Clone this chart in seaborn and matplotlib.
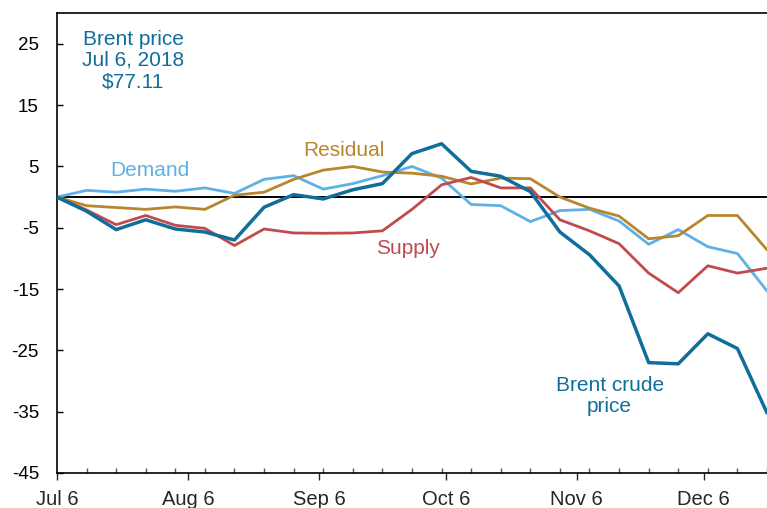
import pandas as pd
import matplotlib.pyplot as plt
import seaborn as sns

# weekly values, % change since Jul 6, 2018
dates = pd.date_range('2018-07-06', periods=25, freq='7D')
brent = [0, -2.3, -5.3, -3.7, -5.2, -5.7, -7.0, -1.65, 0.4, -0.3, 1.2, 2.2, 7.1,
         8.7, 4.2, 3.4, 0.9, -5.7, -9.4, -14.5, -27.0, -27.2, -22.3, -24.7, -35.2]
demand = [0, 1.1, 0.8, 1.3, 0.95, 1.5, 0.6, 2.9, 3.5, 1.3, 2.2, 3.5, 5.0,
          3.1, -1.2, -1.4, -4.0, -2.2, -2.0, -3.9, -7.7, -5.3, -8.1, -9.2, -15.3]
residual = [0, -1.4, -1.7, -2.0, -1.6, -2.0, 0.3, 0.8, 2.9, 4.4, 5.0, 4.1, 3.9,
            3.4, 2.15, 3.1, 3.0, 0, -1.8, -3.1, -6.8, -6.3, -3.0, -3.0, -8.6]
supply = [0, -2.1, -4.5, -3.0, -4.6, -5.1, -7.9, -5.2, -5.85, -5.9, -5.85, -5.5, -2.0,
          2.0, 3.2, 1.5, 1.5, -3.7, -5.5, -7.6, -12.4, -15.6, -11.2, -12.4, -11.6]

month_ticks = pd.to_datetime(['2018-07-06', '2018-08-06', '2018-09-06',
                              '2018-10-06', '2018-11-06', '2018-12-06'])
month_labels = ['Jul 6', 'Aug 6', 'Sep 6', 'Oct 6', 'Nov 6', 'Dec 6']

colors = {'Demand': '#5fb0e4', 'Residual': '#b8862d', 'Supply': '#c24a4c', 'Brent': '#0f6e9c'}

df = pd.DataFrame({'date': dates, 'Demand': demand, 'Residual': residual,
                   'Supply': supply, 'Brent': brent})
long = df.melt(id_vars='date', var_name='series', value_name='pct')

sns.set_style('ticks')
plt.rcParams['font.family'] = ['Liberation Sans', 'DejaVu Sans']
plt.rcParams['axes.unicode_minus'] = False

fig = plt.figure(figsize=(7.67, 5.08), dpi=100)
ax = fig.add_axes([0.0743, 0.069, 0.9257, 0.905])

ax.axhline(0, color='black', lw=1.4, zorder=1)
sns.lineplot(data=long[long.series != 'Brent'], x='date', y='pct', hue='series',
             palette=colors, linewidth=2.0, legend=False, ax=ax, zorder=2)
sns.lineplot(data=long[long.series == 'Brent'], x='date', y='pct', color=colors['Brent'],
             linewidth=2.5, legend=False, ax=ax, zorder=3)

ax.set_ylim(-45, 30)
ax.set_yticks(range(-45, 30, 10))
ax.set_xlim(dates[0], dates[0] + pd.Timedelta(days=167))
ax.set_xticks(month_ticks)
ax.set_xticklabels(month_labels)
ax.set_xticks(dates, minor=True)
ax.set_xlabel('')
ax.set_ylabel('')

ax.tick_params(axis='y', direction='in', length=4, width=1, pad=13, labelsize=13.5, colors='black')
ax.tick_params(axis='x', which='major', direction='out', length=5, width=1, pad=7, labelsize=14.5)
ax.tick_params(axis='x', which='minor', direction='in', length=3.5, width=1, color='#555555')
for side in ['left', 'bottom', 'top']:
    ax.spines[side].set_color('black')
    ax.spines[side].set_linewidth(1.2)
ax.spines['right'].set_visible(False)

fs = 15
ax.text(pd.Timestamp('2018-07-24'), 22.3, 'Brent price\nJul 6, 2018\n$77.11',
        color=colors['Brent'], fontsize=fs, ha='center', va='center', linespacing=1.15)
ax.text(pd.Timestamp('2018-07-28'), 4.3, 'Demand', color=colors['Demand'],
        fontsize=fs, ha='center', va='center')
ax.text(pd.Timestamp('2018-09-12'), 7.6, 'Residual', color=colors['Residual'],
        fontsize=fs, ha='center', va='center')
ax.text(pd.Timestamp('2018-09-27'), -8.4, 'Supply', color=colors['Supply'],
        fontsize=fs, ha='center', va='center')
ax.text(pd.Timestamp('2018-11-13 18:00'), -32.5, 'Brent crude\nprice', color=colors['Brent'],
        fontsize=fs, ha='center', va='center', linespacing=1.15)

fig.savefig('out.png', dpi=100)
